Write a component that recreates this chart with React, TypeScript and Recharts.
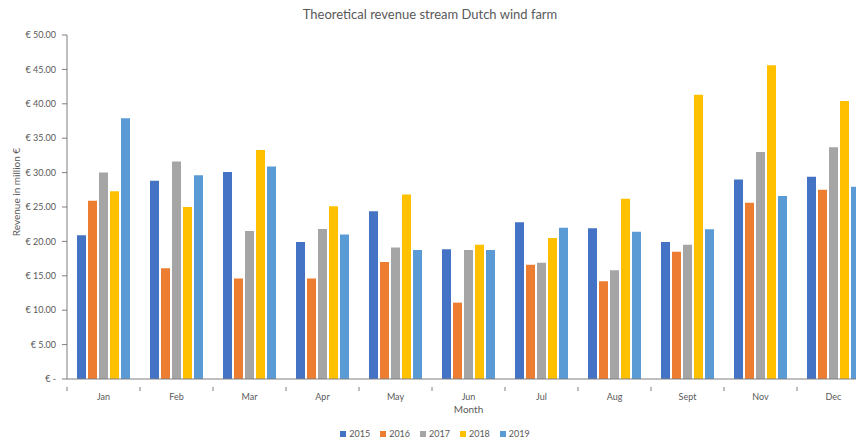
import React from "react";
import { BarChart, Bar, XAxis, YAxis, Legend } from "recharts";

const months = ["Jan", "Feb", "Mar", "Apr", "May", "Jun", "Jul", "Aug", "Sept", "Nov", "Dec"];
const rev2015 = [20.9, 28.8, 30.1, 19.9, 24.4, 18.85, 22.8, 21.9, 19.9, 29.0, 29.4];
const rev2016 = [25.9, 16.1, 14.6, 14.6, 17.0, 11.1, 16.6, 14.2, 18.5, 25.6, 27.5];
const rev2017 = [30.0, 31.6, 21.5, 21.8, 19.1, 18.75, 16.9, 15.8, 19.5, 33.0, 33.7];
const rev2018 = [27.3, 25.0, 33.3, 25.1, 26.8, 19.5, 20.5, 26.2, 41.3, 45.6, 40.4];
const rev2019 = [37.9, 29.6, 30.9, 21.0, 18.75, 18.75, 22.0, 21.4, 21.75, 26.6, 27.95];
const yTicks = [0, 5, 10, 15, 20, 25, 30, 35, 40, 45, 50];

const series = [
  { key: "2015", values: rev2015, color: "#4472C4" },
  { key: "2016", values: rev2016, color: "#ED7D31" },
  { key: "2017", values: rev2017, color: "#A5A5A5" },
  { key: "2018", values: rev2018, color: "#FFC000" },
  { key: "2019", values: rev2019, color: "#5B9BD5" },
];

const data = months.map((m, i) => {
  const row: any = { month: m };
  series.forEach((s) => (row[s.key] = s.values[i]));
  return row;
});

const FONT = "Lato, 'Open Sans', sans-serif";
const TEXT = "#595959";

const euro = (v: number) => (v === 0 ? "€ -" : `€ ${v.toFixed(2)}`);

function MonthTick(props: any) {
  const { x, y, payload } = props;
  const half = payload && payload.offset ? payload.offset : 36.5;
  return (
    <g>
      <line x1={x - half} y1={y} x2={x - half} y2={y + 4} stroke="#7f7f7f" />
      <text x={x} y={y + 13} textAnchor="middle" fill={TEXT} fontSize={9} fontFamily={FONT}>
        {payload.value}
      </text>
    </g>
  );
}

function LegendBox() {
  return (
    <div
      style={{
        display: "flex",
        justifyContent: "center",
        gap: 10,
        paddingTop: 13,
        fontFamily: FONT,
        fontSize: 9,
        color: TEXT,
      }}
    >
      {series.map((s) => (
        <div key={s.key} style={{ display: "flex", alignItems: "center", gap: 3 }}>
          <span style={{ width: 6, height: 6, background: s.color, display: "inline-block" }} />
          <span>{s.key}</span>
        </div>
      ))}
    </div>
  );
}

export default function App() {
  return (
    <div
      style={{
        position: "fixed",
        left: 0,
        top: 0,
        width: 856,
        height: 439,
        overflow: "hidden",
        background: "#fff",
      }}
    >
      <div
        style={{
          position: "absolute",
          top: 6,
          left: 0,
          width: 860,
          textAlign: "center",
          fontFamily: FONT,
          fontSize: 13,
          color: TEXT,
        }}
      >
        Theoretical revenue stream Dutch wind farm
      </div>
      <svg style={{ position: "absolute", left: 0, top: 0 }} width={40} height={439}>
        <text
          x={20}
          y={192}
          transform="rotate(-90 20 192)"
          textAnchor="middle"
          fill={TEXT}
          fontSize={10}
          fontFamily={FONT}
        >
          Revenue in million €
        </text>
      </svg>
      <BarChart
        width={880}
        height={439}
        data={data}
        margin={{ top: 35, right: 10, left: 0, bottom: 0 }}
        barSize={9}
        barGap={2}
      >
        <XAxis
          dataKey="month"
          height={36}
          tickLine={false}
          axisLine={{ stroke: "#7f7f7f" }}
          tick={<MonthTick />}
          interval={0}
          label={{
            value: "Month",
            position: "insideBottom",
            offset: 2,
            fill: TEXT,
            fontSize: 10,
            fontFamily: FONT,
          }}
        />
        <YAxis
          width={67}
          domain={[0, 50]}
          ticks={yTicks}
          tickFormatter={euro}
          tickSize={5}
          tickMargin={6}
          axisLine={{ stroke: "#7f7f7f" }}
          tickLine={{ stroke: "#7f7f7f" }}
          tick={{ fill: TEXT, fontSize: 9, fontFamily: FONT }}
        />
        <Legend verticalAlign="bottom" height={24} content={() => <LegendBox />} />
        {series.map((s) => (
          <Bar key={s.key} dataKey={s.key} fill={s.color} isAnimationActive={false} />
        ))}
      </BarChart>
    </div>
  );
}
